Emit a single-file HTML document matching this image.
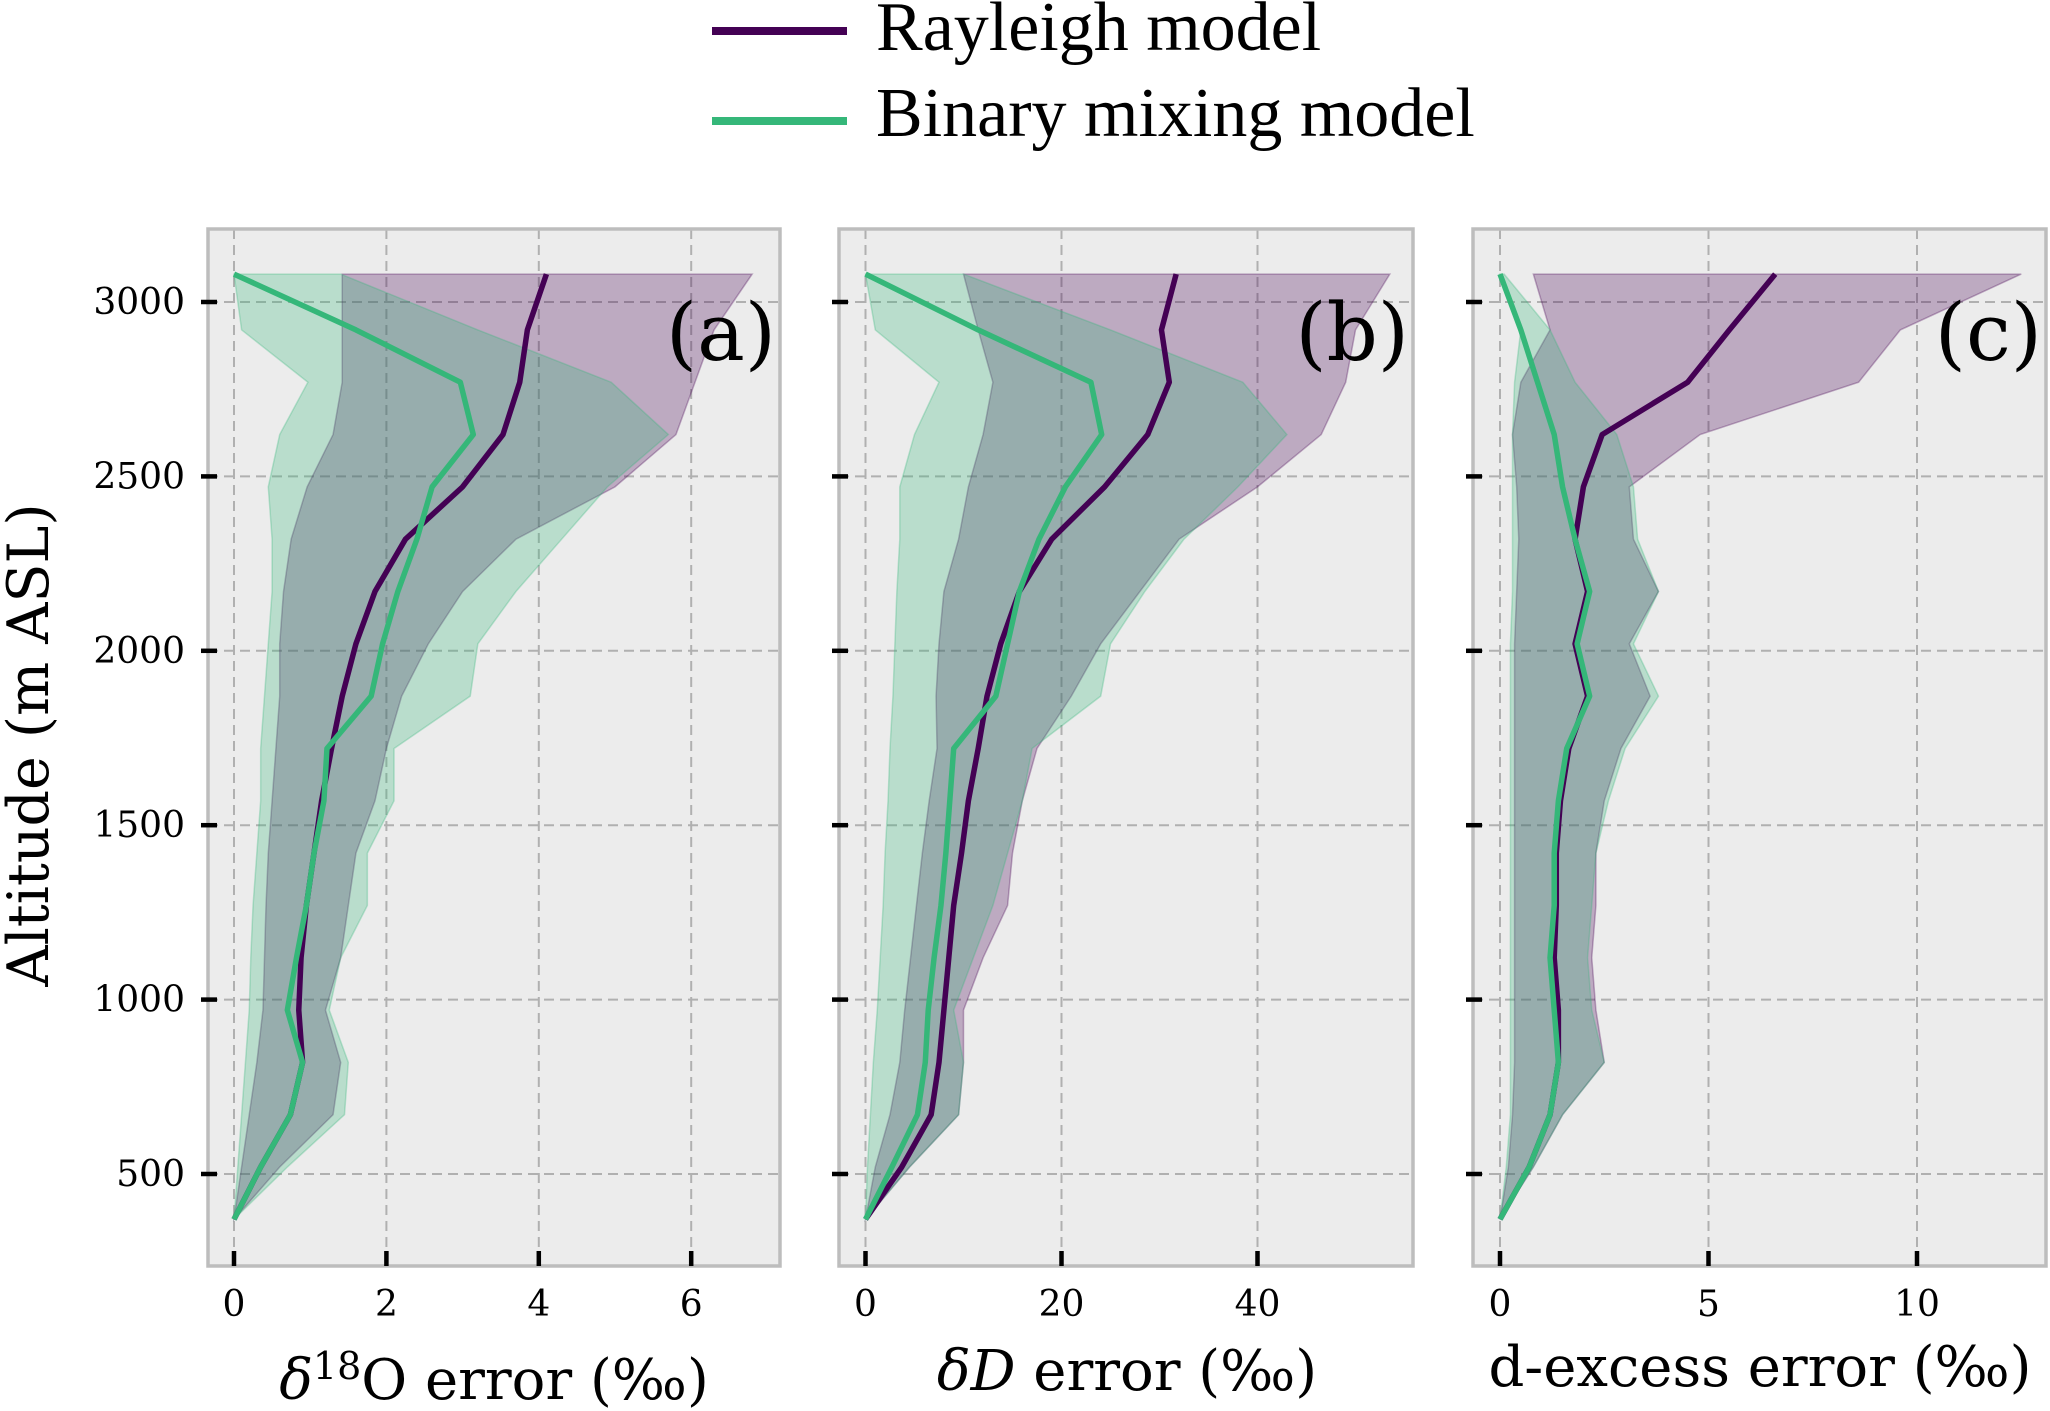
<!DOCTYPE html>
<html><head><meta charset="utf-8"><style>
html,body{margin:0;padding:0;background:#fff;}
svg{display:block;}
</style></head><body>
<svg id="chart" width="2050" height="1411" viewBox="0 0 2050 1411" xmlns="http://www.w3.org/2000/svg">
<g>
<line x1="712" y1="31" x2="847" y2="31" stroke="#440154" stroke-width="8"/>
<text x="876" y="50" font-family="Liberation Serif, serif" font-size="70">Rayleigh model</text>
<line x1="712" y1="121" x2="847" y2="121" stroke="#35b779" stroke-width="8"/>
<text x="876" y="136" font-family="Liberation Serif, serif" font-size="70">Binary mixing model</text>
</g>
<text transform="translate(48,745) rotate(-90)" text-anchor="middle" font-family="DejaVu Serif, serif" font-size="57">Altitude (m ASL)</text>
</svg>
<script>
const altitudes=[370,520,670,820,970,1120,1270,1420,1570,1720,1870,2020,2170,2320,2470,2620,2770,2920,3080];
const yTicks=[500,1000,1500,2000,2500,3000];
// panel a
const rayA=[0,0.35,0.74,0.9,0.85,0.88,0.95,1.05,1.15,1.28,1.42,1.6,1.85,2.25,3.0,3.53,3.75,3.85,4.1];
const rayA_lo=[0,0.1,0.2,0.3,0.38,0.4,0.42,0.45,0.5,0.55,0.6,0.6,0.65,0.75,0.96,1.3,1.42,1.42,1.42];
const rayA_hi=[0,0.6,1.3,1.4,1.2,1.4,1.5,1.6,1.85,2.0,2.2,2.55,3.0,3.7,5.0,5.8,6.05,6.3,6.8];
const binA=[0,0.35,0.74,0.9,0.7,0.82,0.95,1.05,1.18,1.22,1.8,1.95,2.15,2.4,2.6,3.14,2.97,1.6,0];
const binA_lo=[0,0.05,0.1,0.15,0.2,0.22,0.25,0.3,0.35,0.35,0.4,0.45,0.5,0.5,0.45,0.6,0.97,0.1,0];
const binA_hi=[0,0.7,1.45,1.5,1.25,1.4,1.75,1.75,2.1,2.1,3.1,3.2,3.7,4.3,4.9,5.7,4.95,3.2,1.4];
const xTicksA=[0,2,4,6];
// panel b
const rayB=[0,3.7,6.7,7.5,8,8.5,9,9.8,10.5,11.5,12.4,13.8,15.7,19,24.4,28.8,31,30.2,31.7];
const rayB_lo=[0,1,2.5,3.5,4,4.6,5.2,5.8,6.5,7.3,7.2,7.5,8,9.5,10.5,12,13,11.5,10];
const rayB_hi=[0,4.5,9.5,10,10,12,14.5,15,16,17.5,21,24,28,32,40,46.5,49,50,53.5];
const binB=[0,2.7,5.3,6.1,6.4,7,7.7,8.2,8.6,9,13.3,14.5,15.7,17.7,20.4,24.1,23,11.5,0];
const binB_lo=[0,0.2,0.5,0.8,1.2,1.5,1.8,2,2.3,2.5,2.8,3,3.2,3.5,3.5,5,7.5,1,0];
const binB_hi=[0,4.5,9.5,10,9,11,13,14.5,16,17,24,25,28.5,32.5,38,43,38.5,25,10];
const xTicksB=[0,20,40];
// panel c
const rayC=[0,0.7,1.2,1.4,1.4,1.3,1.35,1.35,1.45,1.65,2.1,1.8,2.1,1.8,2.0,2.45,4.5,5.5,6.6];
const rayC_lo=[0,0.2,0.3,0.35,0.35,0.35,0.35,0.35,0.35,0.35,0.35,0.35,0.4,0.45,0.4,0.3,0.5,1.2,0.8];
const rayC_hi=[0,0.8,1.5,2.5,2.3,2.2,2.3,2.3,2.5,2.9,3.6,3.1,3.8,3.2,3.1,4.8,8.6,9.6,12.5];
const binC=[0,0.7,1.2,1.4,1.3,1.2,1.3,1.3,1.4,1.6,2.15,1.85,2.15,1.8,1.5,1.3,0.9,0.5,0];
const binC_lo=[0,0.15,0.25,0.25,0.25,0.25,0.25,0.25,0.25,0.25,0.25,0.25,0.3,0.3,0.3,0.3,0.35,0.5,0];
const binC_hi=[0,0.8,1.5,2.5,2.2,2.1,2.2,2.3,2.6,3.0,3.8,3.2,3.8,3.3,3.2,2.8,1.8,1.2,0.1];
const xTicksC=[0,5,10];

const NS="http://www.w3.org/2000/svg";
const svg=document.getElementById('chart');
const PT=229,PB=1266;
function yS(a){return 302+(3000-a)*(872/2500);}
function mk(tag,attrs,parent){const e=document.createElementNS(NS,tag);for(const k in attrs)e.setAttribute(k,attrs[k]);(parent||svg).appendChild(e);return e;}

const panels=[
 {id:'a',L:208,R:780,x0:234,k:76.2,ticks:xTicksA,ray:rayA,rlo:rayA_lo,rhi:rayA_hi,bin:binA,blo:binA_lo,bhi:binA_hi,lab:'(a)',yLabels:true,xl:494,xb:1399},
 {id:'b',L:839,R:1413,x0:865.5,k:9.8,ticks:xTicksB,ray:rayB,rlo:rayB_lo,rhi:rayB_hi,bin:binB,blo:binB_lo,bhi:binB_hi,lab:'(b)',yLabels:false,xl:1127,xb:1390},
 {id:'c',L:1473,R:2046,x0:1500,k:41.7,ticks:xTicksC,ray:rayC,rlo:rayC_lo,rhi:rayC_hi,bin:binC,blo:binC_lo,bhi:binC_hi,lab:'(c)',yLabels:false,xl:1760,xb:1386}
];
panels.forEach(p=>{
 const g=mk('g',{});
 
 
 const xS=v=>p.x0+v*p.k;
 const bg=mk('rect',{x:p.L,y:PT,width:p.R-p.L,height:PB-PT,fill:'#ececec'},g);
 
 
 yTicks.forEach(t=>{
  const gl=mk('line',{x1:p.L,x2:p.R,y1:yS(t),y2:yS(t),stroke:'#b0b0b0','stroke-width':2,'stroke-dasharray':'10,6'},g);
  
  
 });
 p.ticks.forEach(t=>{
  const gl=mk('line',{x1:xS(t),x2:xS(t),y1:PT,y2:PB,stroke:'#b0b0b0','stroke-width':2,'stroke-dasharray':'10,6'},g);
  
  
 });
 function band(lo,hi,color,name){
  let d='';
  altitudes.forEach((a,i)=>{d+=(i?'L':'M')+xS(lo[i])+','+yS(a);});
  for(let i=altitudes.length-1;i>=0;i--)d+='L'+xS(hi[i])+','+yS(altitudes[i]);
  const e=mk('path',{d:d+'Z',fill:color,'fill-opacity':0.28,stroke:color,'stroke-opacity':0.3,'stroke-width':1.5},g);
  
  
 }
 function line(vals,color,name){
  const pts=altitudes.map((a,i)=>xS(vals[i])+','+yS(a)).join(' ');
  const e=mk('polyline',{points:pts,fill:'none',stroke:color,'stroke-width':5.5,'stroke-linejoin':'round'},g);
  
  
 }
 band(p.rlo,p.rhi,'#440154','rayleigh-range-band');
 band(p.blo,p.bhi,'#35b779','binary-range-band');
 line(p.ray,'#440154','rayleigh-line');
 line(p.bin,'#35b779','binary-line');
 const fr=mk('rect',{x:p.L,y:PT,width:p.R-p.L,height:PB-PT,fill:'none',stroke:'#bdbdbd','stroke-width':3.5},g);
 
 
 yTicks.forEach(t=>{
  const tk=mk('line',{x1:p.L-7,x2:p.L+9,y1:yS(t),y2:yS(t),stroke:'#000','stroke-width':4.5},g);
  
  
  if(p.yLabels){
   const tl=mk('text',{x:185,y:yS(t)+12,'text-anchor':'end','font-family':'DejaVu Serif, serif','font-size':36},g);
   tl.textContent=t;
   
   
  }
 });
 p.ticks.forEach(t=>{
  const tk=mk('line',{x1:xS(t),x2:xS(t),y1:PB-15,y2:PB,stroke:'#000','stroke-width':4.5},g);
  
  
  const tl=mk('text',{x:xS(t),y:1316,'text-anchor':'middle','font-family':'DejaVu Serif, serif','font-size':36},g);
  tl.textContent=t;
  
  
 });
 const pl=mk('text',{x:p.R-4,y:360,'text-anchor':'end','font-family':'DejaVu Serif, serif','font-size':80},g);
 pl.textContent=p.lab;
 
 
 const xl=mk('text',{x:p.xl,y:p.xb,'text-anchor':'middle','font-family':'DejaVu Serif, serif','font-size':56},g);
 
 
 if(p.id==='a'){
  xl.innerHTML='<tspan font-style="italic">δ</tspan><tspan dy="-20" font-size="38">18</tspan><tspan dy="20">O error (‰)</tspan>';
 }else if(p.id==='b'){
  xl.innerHTML='<tspan font-style="italic">δD</tspan> error (‰)';
 }else{
  xl.textContent='d-excess error (‰)';
 }
});
</script>
</body></html>
